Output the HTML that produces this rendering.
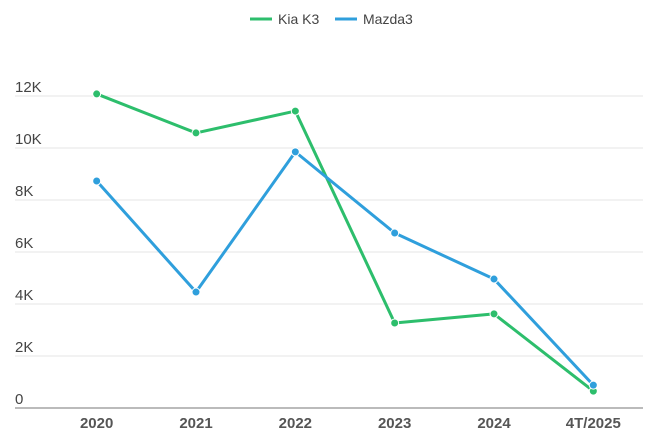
<!DOCTYPE html>
<html><head><meta charset="utf-8"><style>
body{margin:0;background:#fff;font-family:"Liberation Sans",sans-serif}
svg{display:block}
</style></head><body>
<svg id="chart" width="650" height="442" viewBox="0 0 650 442">
<g id="legend">
<g><line x1="250" y1="19" x2="272" y2="19" stroke="#2dbe6c" stroke-width="3"/><text x="278" y="24" font-size="14" fill="#444">Kia K3</text></g>
<g><line x1="335" y1="19" x2="357" y2="19" stroke="#2f9fdc" stroke-width="3"/><text x="363" y="24" font-size="14" fill="#444">Mazda3</text></g>
</g>
<g id="grid"></g><g id="series"></g>
</svg>
<script>
const categories=["2020","2021","2022","2023","2024","4T/2025"];
const kiaK3=[12080,10580,11420,3270,3620,650];
const mazda3=[8730,4460,9850,6730,4960,880];
const yTicks=[0,2000,4000,6000,8000,10000,12000];
const yTickLabels=["0","2K","4K","6K","8K","10K","12K"];
const NS="http://www.w3.org/2000/svg";
const left=47,right=643,y0=408,pxPerUnit=26/1000;
const band=(right-left)/categories.length;
function x(i){return left+band*(i+0.5);}
function y(v){return y0-v*pxPerUnit;}
function mk(tag,attrs,parent){const e=document.createElementNS(NS,tag);for(const k in attrs)e.setAttribute(k,attrs[k]);parent.appendChild(e);return e;}
const grid=document.getElementById('grid');
yTicks.forEach((t,i)=>{
 if(t>0){const l=mk('line',{x1:15,x2:643,y1:y(t),y2:y(t),stroke:'#e6e6e6','stroke-width':1},grid);
 
 }
 const tx=mk('text',{x:15,y:y(t)-4,'font-size':15,fill:'#444'},grid);tx.textContent=yTickLabels[i];
 
 
});
const ax=mk('line',{x1:15,x2:643,y1:y0,y2:y0,stroke:'#777','stroke-width':1},grid);


categories.forEach((c,i)=>{
 const tx=mk('text',{x:x(i),y:428,'font-size':15,'font-weight':'bold',fill:'#555','text-anchor':'middle'},grid);tx.textContent=c;
 
 
});
const S=document.getElementById('series');
function draw(vals,color,name){
 const p=mk('polyline',{points:vals.map((v,i)=>x(i)+','+y(v)).join(' '),fill:'none',stroke:color,'stroke-width':3,'stroke-linejoin':'round'},S);
 
 
 vals.forEach((v,i)=>{const c=mk('circle',{cx:x(i),cy:y(v),r:4,fill:color,stroke:'#fff','stroke-width':1},S);
 
 });
}
draw(kiaK3,'#2dbe6c','kia-k3');
draw(mazda3,'#2f9fdc','mazda3');
</script>
</body></html>
